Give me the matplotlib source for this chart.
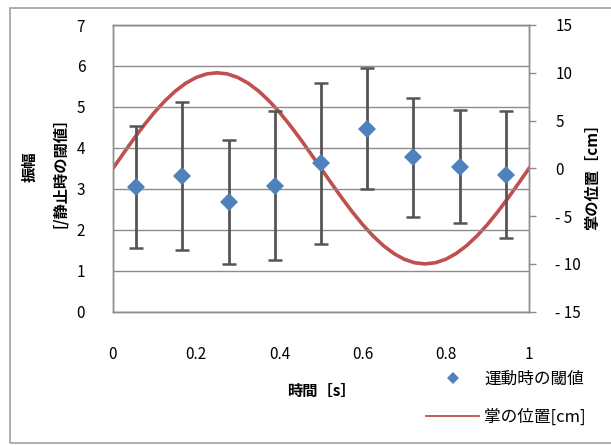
import matplotlib
matplotlib.use("Agg")
import matplotlib.pyplot as plt
from matplotlib.lines import Line2D
from matplotlib.patches import Rectangle

plt.rcParams['font.family'] = ['Noto Sans CJK JP', 'DejaVu Sans']

# Threshold measurements during motion (normalised by the resting threshold)
time_s = [0.056, 0.167, 0.278, 0.389, 0.5, 0.611, 0.722, 0.833, 0.944]
threshold = [3.04, 3.32, 2.68, 3.08, 3.62, 4.47, 3.77, 3.54, 3.34]
threshold_err = [1.49, 1.81, 1.52, 1.81, 1.97, 1.47, 1.45, 1.38, 1.55]

# Palm position over one cycle [cm]
palm_t = [0.0, 0.025, 0.05, 0.075, 0.1, 0.125, 0.15, 0.175, 0.2, 0.225,
          0.25, 0.275, 0.3, 0.325, 0.35, 0.375, 0.4, 0.425, 0.45, 0.475,
          0.5, 0.525, 0.55, 0.575, 0.6, 0.625, 0.65, 0.675, 0.7, 0.725,
          0.75, 0.775, 0.8, 0.825, 0.85, 0.875, 0.9, 0.925, 0.95, 0.975, 1.0]
palm_cm = [0.0, 1.56, 3.09, 4.54, 5.88, 7.07, 8.09, 8.91, 9.51, 9.88,
           10.0, 9.88, 9.51, 8.91, 8.09, 7.07, 5.88, 4.54, 3.09, 1.56,
           0.0, -1.56, -3.09, -4.54, -5.88, -7.07, -8.09, -8.91, -9.51, -9.88,
           -10.0, -9.88, -9.51, -8.91, -8.09, -7.07, -5.88, -4.54, -3.09, -1.56, 0.0]

x_ticks = [0, 0.2, 0.4, 0.6, 0.8, 1]
x_ticklabels = ['0', '0.2', '0.4', '0.6', '0.8', '1']
left_ticks = [0, 1, 2, 3, 4, 5, 6, 7]
right_ticks = [-15, -10, -5, 0, 5, 10, 15]

W, H = 611, 445
fig = plt.figure(figsize=(W / 100, H / 100), dpi=100)
ax = fig.add_axes([113 / W, 1 - 311.7 / H, (529 - 113) / W, (311.7 - 25) / H])
ax2 = ax.twinx()

grid_c = '#8c8c8c'
blue = '#4F81BD'
red = '#C0504D'

ax.set_xlim(0, 1)
ax.set_ylim(0, 7)
ax.set_yticks(left_ticks)
ax.set_xticks(x_ticks)
ax.set_xticklabels(x_ticklabels)
ax.yaxis.grid(True, color=grid_c, linewidth=1.0)
ax.set_axisbelow(True)
ax.tick_params(axis='y', length=0, pad=20, labelsize=11)
ax.tick_params(axis='x', length=0, pad=25, labelsize=11)

ax2.set_ylim(-15, 15)
ax2.set_yticks(right_ticks)
ax2.set_yticklabels([str(v) if v >= 0 else '- ' + str(-v) for v in right_ticks])
ax2.tick_params(axis='y', length=5, width=1, color=grid_c, pad=14, labelsize=11)

for a in (ax, ax2):
    for s in a.spines.values():
        s.set_color(grid_c)
        s.set_linewidth(1.0)

# Palm trajectory on the right axis
ax2.plot(palm_t, palm_cm, color=red, linewidth=2.6, zorder=2)

# Threshold error bars and markers on the left axis
ax.set_zorder(ax2.get_zorder() + 1)
ax.patch.set_visible(False)
ax.errorbar(time_s, threshold, yerr=threshold_err, fmt='none',
            ecolor='#555555', elinewidth=2.0, capsize=5, capthick=1.8, zorder=3)
ax.plot(time_s, threshold, linestyle='none', marker='D', color=blue,
        markersize=9, markeredgewidth=0, zorder=4)

ax.set_xlabel('時間［s］', fontsize=11, fontweight='bold', labelpad=14)

fig.text(30 / W, 1 - 167 / H, '振幅', rotation=90, ha='center', va='center',
         fontsize=11, fontweight='bold')
fig.text(60 / W, 1 - 169 / H, '[/静止時の閾値］', rotation=90, ha='center', va='center',
         fontsize=11, fontweight='bold')
fig.text(592 / W, 1 - 173 / H, '掌の位置［cm］', rotation=90, ha='center', va='center',
         fontsize=11, fontweight='bold')

handles = [Line2D([], [], linestyle='none', marker='D', color=blue, markersize=6,
                  markeredgewidth=0),
           Line2D([], [], color=red, linewidth=1.3)]
fig.legend(handles, ['運動時の閾値', '掌の位置[cm]'], loc='upper left',
           bbox_to_anchor=(426 / W, 1 - 371 / H), frameon=False, fontsize=12,
           handlelength=3.2, handletextpad=0.3, labelspacing=1.25,
           borderaxespad=0, borderpad=0)

fig.add_artist(Rectangle((10 / W, 1 - 443 / H), (640 - 10) / W, (443 - 8) / H,
                         transform=fig.transFigure, fill=False,
                         edgecolor='#a0a0a0', linewidth=1.2))

fig.savefig('out.png', dpi=100)
